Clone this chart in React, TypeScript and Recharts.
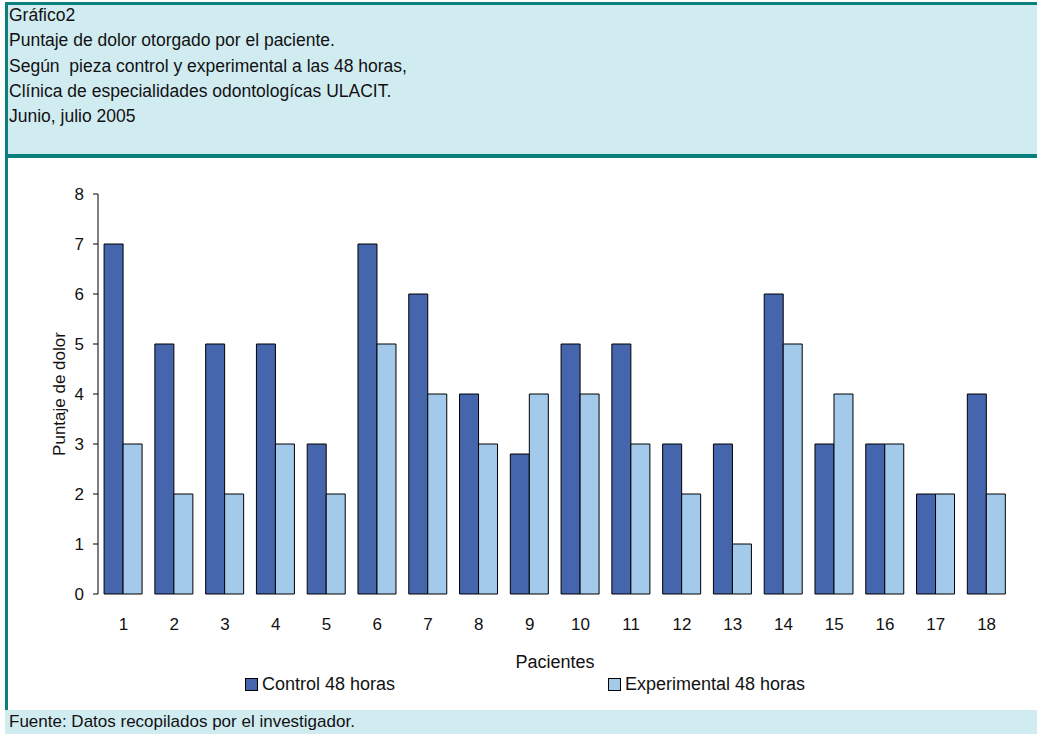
import { BarChart, Bar, XAxis, YAxis } from "recharts";

const pacientes = ["1", "2", "3", "4", "5", "6", "7", "8", "9", "10", "11", "12", "13", "14", "15", "16", "17", "18"];
const control48 = [7, 5, 5, 5, 3, 7, 6, 4, 2.8, 5, 5, 3, 3, 6, 3, 3, 2, 4];
const experimental48 = [3, 2, 2, 3, 2, 5, 4, 3, 4, 4, 3, 2, 1, 5, 4, 3, 2, 2];
const yTicks = [0, 1, 2, 3, 4, 5, 6, 7, 8];
const boundaryTicks = [0, 1, 2, 3, 4, 5, 6, 7, 8, 9, 10, 11, 12, 13, 14, 15, 16, 17, 18];

const titleLines = [
  "Gráfico2",
  "Puntaje de dolor otorgado por el paciente.",
  "Según  pieza control y experimental a las 48 horas,",
  "Clínica de especialidades odontologícas ULACIT.",
  "Junio, julio 2005",
];
const fuente = "Fuente: Datos recopilados por el investigador.";

const series = [
  { key: "control", name: "Control 48 horas", color: "#4565AD", legendX: 245 },
  { key: "experimental", name: "Experimental 48 horas", color: "#A3CAEA", legendX: 608 },
];

const data = pacientes.map((p, i) => ({ paciente: p, control: control48[i], experimental: experimental48[i] }));

const TEAL = "#0B7F7B";
const PALE = "#D1ECF1";
const FONT = "'Liberation Sans', Arial, sans-serif";
const FS = 17;

export default function App() {
  const tickStyle = { fill: "#111", fontSize: FS, fontFamily: FONT };
  return (
    <div style={{ position: "absolute", left: 0, top: 0, width: 1037, height: 734, background: "#fff", fontFamily: FONT, color: "#111", overflow: "hidden" }}>
      {/* header band */}
      <div style={{ position: "absolute", left: 5, top: 2, width: 1032, height: 156, background: PALE, borderTop: `3px solid ${TEAL}`, borderLeft: `3px solid ${TEAL}`, borderBottom: `4px solid ${TEAL}`, boxSizing: "border-box" }} />
      <div style={{ position: "absolute", left: 9, top: 3, fontSize: 17.5, lineHeight: "25.3px", whiteSpace: "pre" }}>
        {titleLines.map((t) => <div key={t}>{t}</div>)}
      </div>
      {/* left border of chart area */}
      <div style={{ position: "absolute", left: 5, top: 156, width: 3, height: 554, background: TEAL }} />
      {/* footer */}
      <div style={{ position: "absolute", left: 5, top: 710, width: 1032, height: 24, background: PALE }} />
      <div style={{ position: "absolute", left: 9, top: 710, fontSize: FS, lineHeight: "23px", whiteSpace: "pre" }}>{fuente}</div>

      <div style={{ position: "absolute", left: 0, top: 160 }}>
        <BarChart width={1037} height={545} data={data} margin={{ top: 34, right: 25, bottom: 36, left: 20 }} barCategoryGap="12%" barGap={0}>
          <XAxis xAxisId="bounds" type="number" domain={[0, 18]} ticks={boundaryTicks} allowDataOverflow height={0} tick={false} tickSize={5} stroke="#000" tickLine={{ stroke: "#000" }} axisLine={{ stroke: "#000" }} />
          <XAxis xAxisId="cat" dataKey="paciente" height={75} axisLine={false} tickLine={false} tickSize={0} tickMargin={24} tick={tickStyle} interval={0}
            label={{ value: "Pacientes", position: "insideBottom", offset: 1, fill: "#111", fontSize: 18, fontFamily: FONT }} />
          <YAxis domain={[0, 8]} ticks={yTicks} width={78} tickSize={5} tickMargin={9} tick={tickStyle} stroke="#000" axisLine={{ stroke: "#000" }} tickLine={{ stroke: "#000" }}
            label={{ value: "Puntaje de dolor", angle: -90, position: "center", fill: "#111", fontSize: FS, fontFamily: FONT }} />
          {series.map((s) => (
            <Bar key={s.key} xAxisId="cat" dataKey={s.key} name={s.name} fill={s.color} stroke="#000" strokeWidth={1} isAnimationActive={false} />
          ))}
        </BarChart>
      </div>

      {/* legend */}
      {series.map((s) => (
        <div key={s.key} style={{ position: "absolute", left: s.legendX, top: 673, display: "flex", alignItems: "center", fontSize: 18, lineHeight: "22px", whiteSpace: "pre" }}>
          <span style={{ display: "inline-block", width: 11, height: 11, background: s.color, border: "1px solid #000", marginRight: 4 }} />
          <span>{s.name}</span>
        </div>
      ))}
    </div>
  );
}
